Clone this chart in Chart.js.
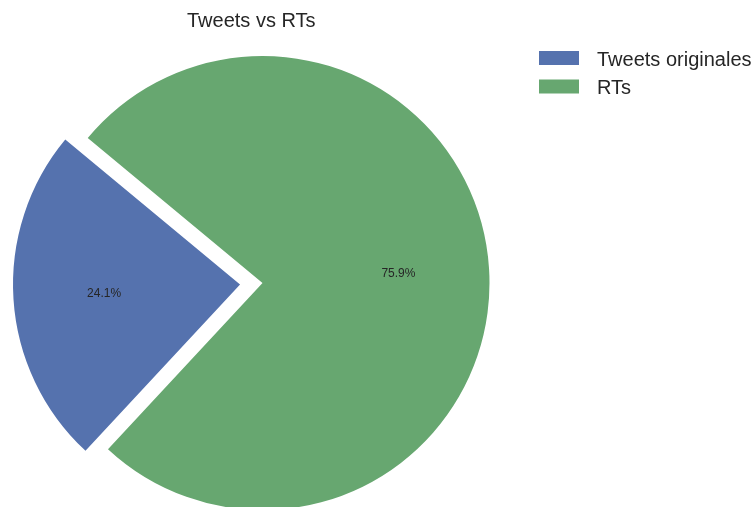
<!DOCTYPE html>
<html>
<head>
<meta charset="utf-8">
<title>Tweets vs RTs</title>
<script src="https://cdn.jsdelivr.net/npm/chart.js@4.4.1/dist/chart.umd.min.js"></script>
<style>
  html, body { margin: 0; padding: 0; overflow: hidden; background: #fff; }
  #wrap { position: relative; width: 753px; height: 566px; }
</style>
</head>
<body>
<div id="wrap"><canvas id="pieChart"></canvas></div>
<script>
var labels = ['Tweets originales', 'RTs'];
var shares = [24.1, 75.9];
var colors = ['#5572AE', '#67A770'];
var explode = [22.5, 0]; // px the wedge is pulled out

var chartTitle = 'Tweets vs RTs';
var textColor = '#262626';
var fontFamily = '"Liberation Sans", Arial, Helvetica, sans-serif';

// percentage inside each wedge, at 60% of the radius
var pctLabels = {
  id: 'pctLabels',
  afterDatasetsDraw: function(chart) {
    var ctx = chart.ctx;
    var meta = chart.getDatasetMeta(0);
    var total = shares.reduce(function(a, b) { return a + b; }, 0);
    ctx.save();
    ctx.font = '12px ' + fontFamily;
    ctx.fillStyle = textColor;
    ctx.textAlign = 'center';
    ctx.textBaseline = 'middle';
    meta.data.forEach(function(arc, i) {
      var p = arc.getProps(['x', 'y', 'startAngle', 'endAngle', 'outerRadius'], true);
      var mid = (p.startAngle + p.endAngle) / 2;
      var r = p.outerRadius * 0.6 + explode[i];
      ctx.fillText((shares[i] / total * 100).toFixed(1) + '%',
        p.x + Math.cos(mid) * r, p.y + Math.sin(mid) * r);
    });
    ctx.restore();
  }
};

// title over the pie and legend in the top right corner
var header = {
  id: 'header',
  afterDraw: function(chart) {
    var ctx = chart.ctx;
    var arc = chart.getDatasetMeta(0).data[0];
    var p = arc.getProps(['x', 'outerRadius'], true);
    var maxExplode = Math.max.apply(null, explode);
    ctx.save();
    ctx.fillStyle = textColor;
    ctx.font = '20px ' + fontFamily;
    ctx.textAlign = 'center';
    ctx.textBaseline = 'alphabetic';
    ctx.fillText(chartTitle, p.x - maxExplode / 2, 27);

    ctx.textAlign = 'left';
    labels.forEach(function(lbl, i) {
      var top = 51 + i * 28.5;
      ctx.fillStyle = colors[i];
      ctx.fillRect(539, top, 40, 14);
      ctx.fillStyle = textColor;
      ctx.fillText(lbl, 597, top + 14.5);
    });
    ctx.restore();
  }
};

new Chart(document.getElementById('pieChart'), {
  type: 'pie',
  data: {
    labels: labels,
    datasets: [{
      data: shares,
      backgroundColor: colors,
      borderWidth: 0,
      offset: explode.map(function(v) { return v * 4; })
    }]
  },
  options: {
    responsive: true,
    maintainAspectRatio: false,
    animation: false,
    events: [],
    rotation: 222.9,
    radius: 227,
    layout: { padding: { left: 0, right: 228, top: 0, bottom: 0 } },
    plugins: {
      legend: { display: false },
      title: { display: false },
      tooltip: { enabled: false }
    }
  },
  plugins: [pctLabels, header]
});
</script>
</body>
</html>
